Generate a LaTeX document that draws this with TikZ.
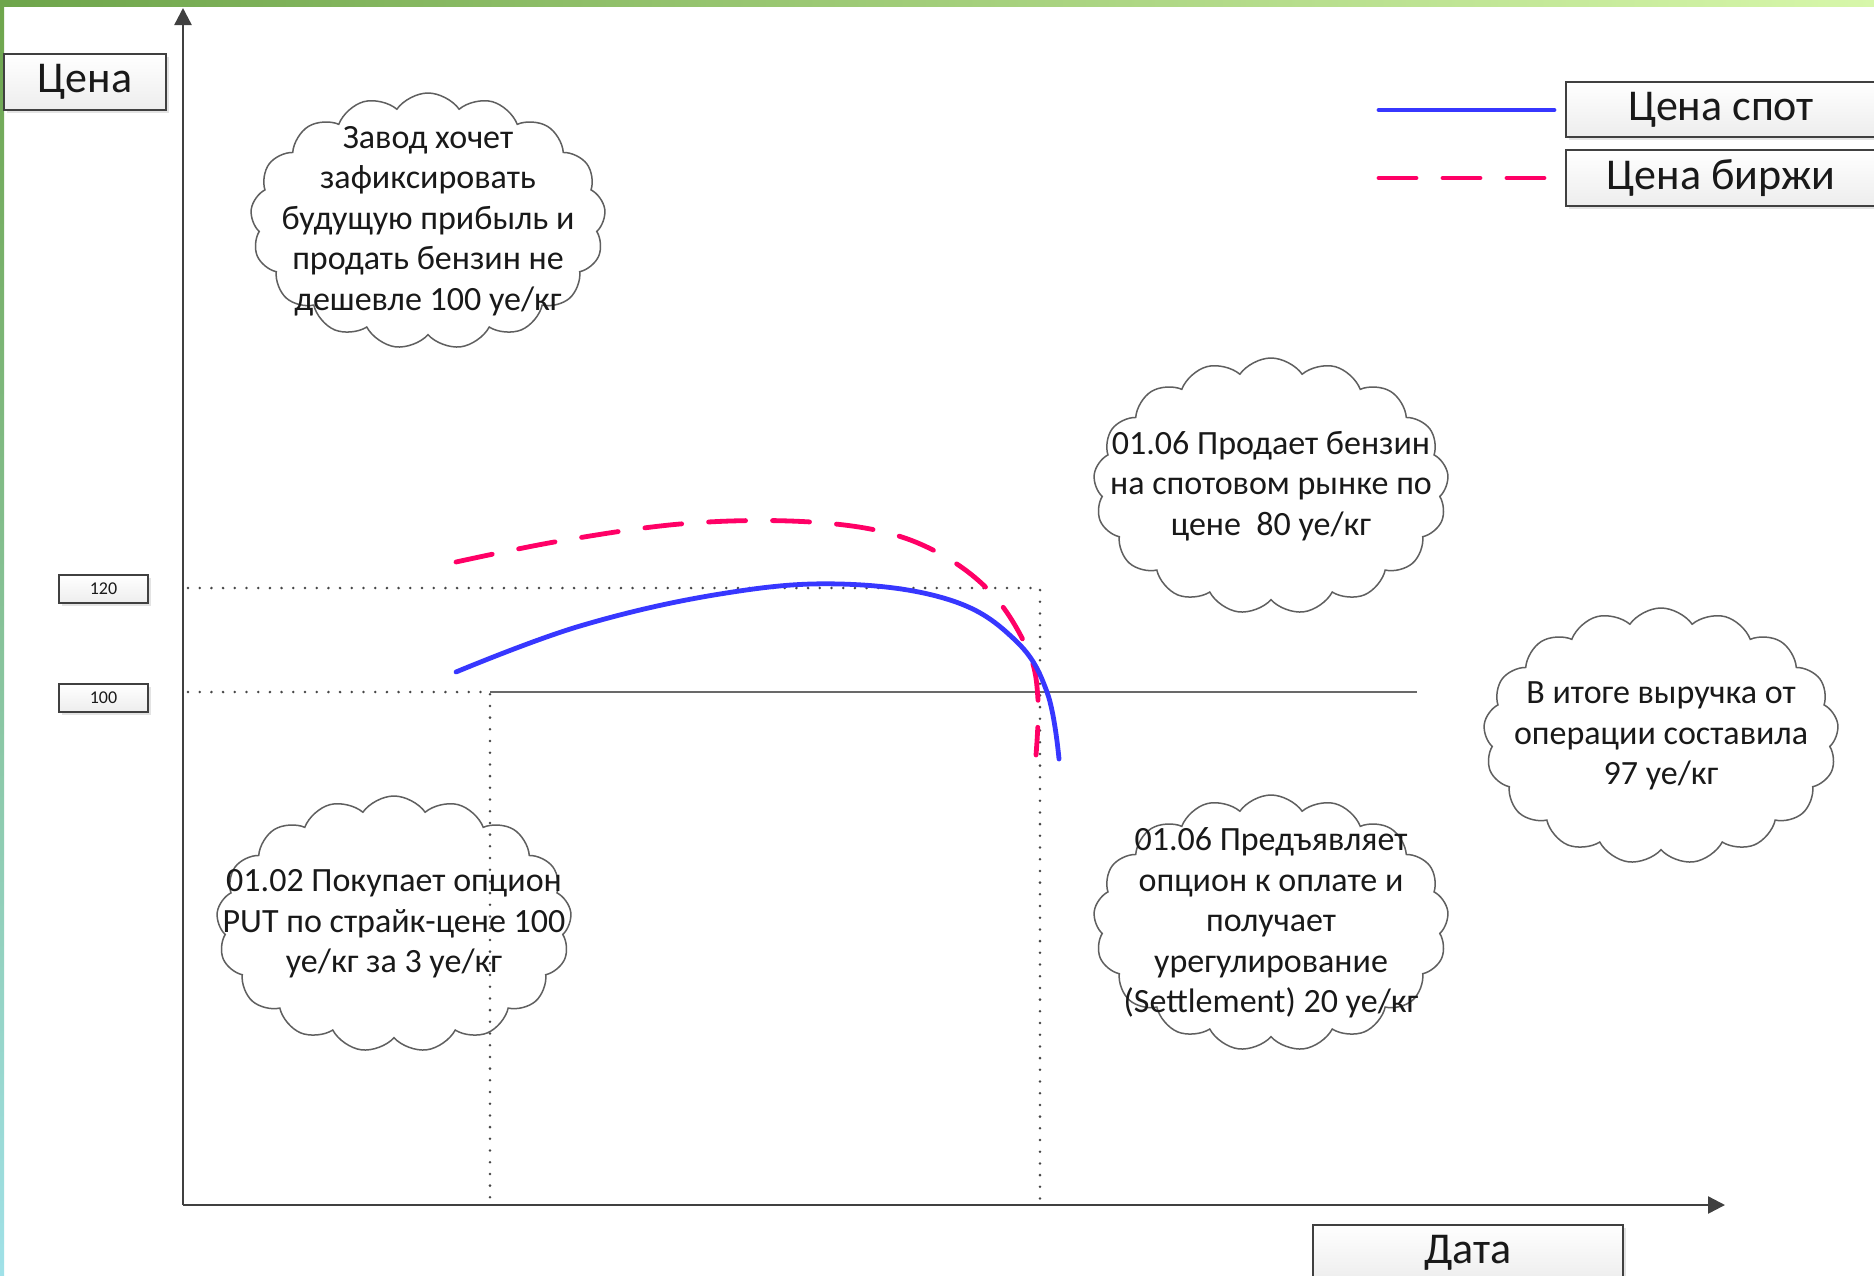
\documentclass[tikz,border=0pt]{standalone}
\usepackage{fontspec}
\setmainfont{Carlito}
\usetikzlibrary{shapes.symbols,shadows,arrows.meta}

\definecolor{spot}{RGB}{55,55,255}
\definecolor{birzha}{RGB}{255,0,102}
\definecolor{axisgray}{RGB}{64,64,64}
\definecolor{levelgray}{RGB}{105,105,105}
\definecolor{cloudgray}{RGB}{95,95,95}
\definecolor{dotgray}{RGB}{70,70,70}
\definecolor{txt}{RGB}{25,25,25}
\definecolor{gdark}{RGB}{110,165,75}
\definecolor{glight}{RGB}{215,247,170}
\definecolor{gcyan}{RGB}{160,225,232}

\tikzset{
  labelbox/.style={draw=axisgray, line width=0.6pt, top color=white, bottom color=gray!14,
    drop shadow={shadow xshift=1.5pt, shadow yshift=-1.5pt, opacity=0.22},
    inner sep=0pt, text=txt, font=\fontsize{22}{26}\selectfont},
  smallbox/.style={labelbox, minimum width=44.5pt, minimum height=14pt, font=\fontsize{9}{11}\selectfont},
  cloudsh/.style={cloud, draw=cloudgray, line width=0.75pt, cloud puffs=17, cloud puff arc=110,
    cloud ignores aspect, minimum width=177.5pt, minimum height=128pt, inner sep=0pt},
  cloudtext/.style={align=center, text=txt, inner sep=0pt, font=\fontsize{17}{20.2}\selectfont},
  axisline/.style={draw=axisgray, line width=1.2pt, -{Triangle[length=8.5pt,width=8.5pt]}},
  guide/.style={draw=dotgray, line width=1.4pt, line cap=round, dash pattern=on 0pt off 5.85pt},
  level/.style={draw=levelgray, line width=1.4pt},
  spotline/.style={draw=spot, line width=2.4pt, line cap=round},
  birzhaline/.style={draw=birzha, line width=2.4pt, line cap=round, dash pattern=on 18.5pt off 13.5pt},
}

\begin{document}
\begin{tikzpicture}[x=0.5pt, y=-0.5pt]
  % page and background
  \useasboundingbox (0,0) rectangle (1874,1275);
  \fill[white] (0,0) rectangle (1874,1275);
  \shade[left color=gdark, right color=glight] (0,0) rectangle (1874,6);
  \shade[top color=gdark, bottom color=gcyan] (0,0) rectangle (4,1275);

  % reference points
  \coordinate (O) at (183,1205);
  \coordinate (ytop) at (183,8);
  \coordinate (xend) at (1725,1205);
  \coordinate (l120a) at (188,588);
  \coordinate (l120b) at (1040,588);
  \coordinate (l120c) at (1040,1205);
  \coordinate (l100a) at (188,692);
  \coordinate (l100b) at (490,692);
  \coordinate (l100c) at (490,1205);
  \coordinate (l100d) at (1417,692);

  % guides
  \draw[guide] (l120a) -- (l120b) -- (l120c);
  \draw[guide] (l100a) -- (l100b) -- (l100c);
  \draw[level] (l100b) -- (l100d);

  % curves
  \draw[birzhaline] plot[smooth, tension=0.6] coordinates {(456,562) (560,541) (680,524) (790,521) (880,531) (944,556) (995,597) (1029,653) (1038,700) (1036,755)};
  \draw[spotline] plot[smooth, tension=0.65] coordinates {(456,672) (580,626) (720,594) (840,584) (950,600) (1015,640) (1047,692) (1059,759)};

  % axes
  \draw[axisline] (O) -- (ytop);
  \draw[axisline] (O) -- (xend);

  % clouds
  \node[cloudsh] (c1) at (428,221) {};
  \node[cloudsh] (c2) at (1271,486) {};
  \node[cloudsh] (c3) at (1661,736) {};
  \node[cloudsh] (c4) at (394,924) {};
  \node[cloudsh] (c5) at (1271,923) {};

  \node[cloudtext] (t1) at (c1) {Завод хочет\\зафиксировать\\будущую прибыль и\\продать бензин не\\дешевле 100 уе/кг};
  \node[cloudtext] (t2) at (c2) {01.06 Продает бензин\\на спотовом рынке по\\цене~~80 уе/кг};
  \node[cloudtext] (t3) at (c3) {В итоге выручка от\\операции составила\\97 уе/кг};
  \node[cloudtext] (t4) at (c4) {01.02 Покупает опцион\\PUT по страйк-цене 100\\уе/кг за 3 уе/кг};
  \node[cloudtext] (t5) at (c5) {01.06 Предъявляет\\опцион к оплате и\\получает\\урегулирование\\(Settlement) 20 уе/кг};

  % label boxes
  \node[labelbox, minimum width=81pt, minimum height=28pt] (price) at (85,82) {Цена};
  \node[labelbox, minimum width=155pt, minimum height=28pt] (date) at (1468,1253) {Дата};
  \node[smallbox] (v120) at (103.5,589) {120};
  \node[smallbox] (v100) at (103.5,698) {100};

  % legend
  \node[labelbox, minimum width=155pt, minimum height=27.5pt] (lspot) at (1721,109.5) {Цена спот};
  \node[labelbox, minimum width=155pt, minimum height=28pt] (lbirzha) at (1721,178) {Цена биржи};
  \coordinate (ls1) at (1379,110);
  \coordinate (ls2) at (1554,110);
  \coordinate (lb1) at (1379,178);
  \coordinate (lb2) at (1554,178);
  \draw[spotline] (ls1) -- (ls2);
  \draw[birzhaline] (lb1) -- (lb2);
\end{tikzpicture}
\end{document}
